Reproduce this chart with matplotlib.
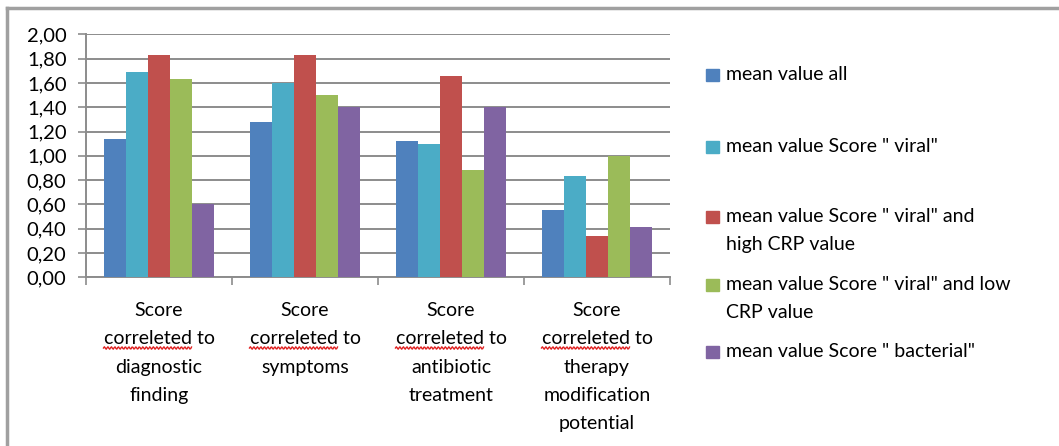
import numpy as np
import matplotlib.pyplot as plt
from matplotlib.patches import Rectangle
from matplotlib.lines import Line2D

categories = [
    "Score\ncorreleted to\ndiagnostic\nfinding",
    "Score\ncorreleted to\nsymptoms",
    "Score\ncorreleted to\nantibiotic\ntreatment",
    "Score\ncorreleted to\ntherapy\nmodification\npotential",
]
series_names = [
    "mean value all",
    "mean value Score \" viral\"",
    "mean value Score \" viral\" and\nhigh CRP value",
    "mean value Score \" viral\" and low\nCRP value",
    "mean value Score \" bacterial\"",
]
mean_all = [1.14, 1.28, 1.12, 0.55]
mean_viral = [1.69, 1.60, 1.10, 0.83]
mean_viral_high_crp = [1.83, 1.83, 1.66, 0.34]
mean_viral_low_crp = [1.63, 1.50, 0.88, 1.00]
mean_bacterial = [0.60, 1.40, 1.40, 0.41]
values = [mean_all, mean_viral, mean_viral_high_crp, mean_viral_low_crp, mean_bacterial]
colors = ["#4F81BD", "#4BACC6", "#C0504D", "#9BBB59", "#8064A2"]
yticks = np.arange(0, 2.01, 0.2)

plt.rcParams["font.family"] = ["Lato", "DejaVu Sans"]
fs = 14
lsp = 1.8
fig = plt.figure(figsize=(10.59, 4.46), dpi=100)
W, H = 1059, 446
ax = fig.add_axes([86 / W, 1 - 277.3 / H, (670 - 86) / W, (277.3 - 34.3) / H])

x = np.arange(len(categories))
bw = 0.151
for i, (vals, col) in enumerate(zip(values, colors)):
    ax.bar(x + (i - 2) * bw, vals, width=bw, color=col, zorder=3)

ax.set_xlim(-0.5, len(categories) - 0.5)
ax.set_ylim(0, 2.0)
ax.set_yticks(yticks)
ax.set_yticklabels([f"{t:.2f}".replace(".", ",") for t in yticks], fontsize=14.5)
ax.yaxis.grid(True, color="#8c8c8c", linewidth=1.4, zorder=0)
ax.set_axisbelow(True)

ax.set_xticks(x)
ax.set_xticklabels(categories, fontsize=fs, linespacing=lsp, va="top")
ax.tick_params(axis="x", which="major", length=0, pad=18)
ax.set_xticks(np.arange(-0.5, len(categories)), minor=True)
ax.tick_params(axis="x", which="minor", length=6, width=1.2, color="#8c8c8c")
ax.tick_params(axis="y", length=6, width=1.2, color="#8c8c8c", pad=8)

for s in ["top", "right"]:
    ax.spines[s].set_visible(False)
for s in ["left", "bottom"]:
    ax.spines[s].set_color("#8c8c8c")
    ax.spines[s].set_linewidth(1.4)

# spell-check squiggle under "correleted", as in the screenshot
fig.canvas.draw()
r = fig.canvas.get_renderer()
tmp = fig.text(0, 0, "correleted to", fontsize=fs)
w_full = tmp.get_window_extent(r).width
tmp.set_text("correleted")
w_word = tmp.get_window_extent(r).width
tmp.remove()
for xi in x:
    cx = ax.transData.transform((xi, 0))[0]
    xs = np.linspace(cx - w_full / 2, cx - w_full / 2 + w_word, 100)
    ys = (H - 348) + 1.2 * np.sin((xs - xs[0]) / 3.5 * 2 * np.pi)
    fig.add_artist(Line2D(xs / W, ys / H, color="#e02020", linewidth=1.0,
                          transform=fig.transFigure))

# legend drawn by hand to keep Excel's uneven spacing
leg_y = [75, 147, 217, 285, 352]
for name, col, yy in zip(series_names, colors, leg_y):
    fig.patches.append(Rectangle((706 / W, 1 - (yy + 6) / H), 13 / W, 12 / H,
                                 transform=fig.transFigure, color=col))
    fig.text(726 / W, 1 - (yy - 9) / H, name, fontsize=fs, va="top", ha="left",
             linespacing=lsp, transform=fig.transFigure)

# outer chart frame (top and left edges visible)
fig.add_artist(Line2D([7 / W, 7 / W], [0, 1 - 8 / H], color="#a0a0a0", linewidth=2.5,
                      transform=fig.transFigure))
fig.add_artist(Line2D([7 / W, 1], [1 - 8 / H, 1 - 8 / H], color="#a0a0a0", linewidth=2.5,
                      transform=fig.transFigure))

fig.savefig("out.png", dpi=100)
